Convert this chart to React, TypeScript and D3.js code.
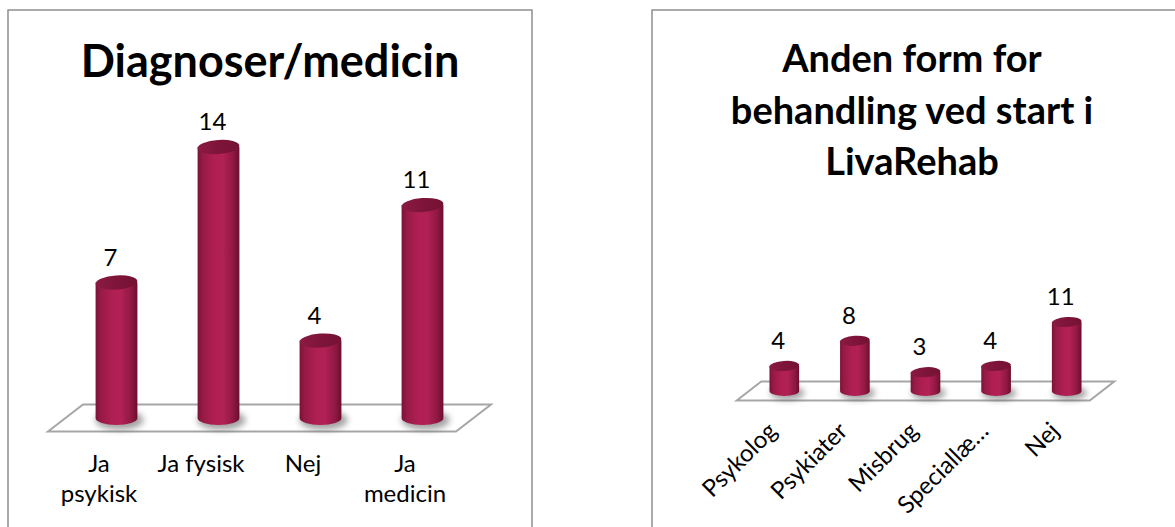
import { useEffect, useRef } from 'react';
import * as d3 from 'd3';

// Left chart
const leftTitle = ['Diagnoser/medicin'];
const leftCategories = ['Ja\npsykisk', 'Ja fysisk', 'Nej', 'Ja\nmedicin'];
const leftValues = [7, 14, 4, 11];

// Right chart
const rightTitle = ['Anden form for', 'behandling ved start i', 'LivaRehab'];
const rightCategories = ['Psykolog', 'Psykiater', 'Misbrug', 'Speciallæ…', 'Nej'];
const rightValues = [4, 8, 3, 4, 11];

const FONT = 'Lato, Carlito, Calibri, "Open Sans", sans-serif';

interface PanelCfg {
  id: string;
  box: [number, number, number, number];
  title: string[];
  titleX: number;
  titleY: number;
  titleSize: number;
  titleLead: number;
  categories: string[];
  values: number[];
  xRange: [number, number];
  yBase: number;
  yTop: number;
  maxVal: number;
  depth: [number, number];
  barFrac: number;
  ry: number;
  rotated: boolean;
}

function drawPanel(svg: d3.Selection<SVGSVGElement, unknown, null, undefined>, c: PanelCfg) {
  const g = svg.append('g');

  g.append('rect')
    .attr('x', c.box[0]).attr('y', c.box[1])
    .attr('width', c.box[2]).attr('height', c.box[3])
    .attr('fill', '#fff')
    .attr('stroke', '#8f8f8f')
    .attr('stroke-width', 1.5);

  // Title
  c.title.forEach((line, i) => {
    g.append('text')
      .attr('x', c.titleX)
      .attr('y', c.titleY + i * c.titleLead)
      .attr('text-anchor', 'middle')
      .attr('font-size', c.titleSize)
      .attr('font-weight', 700)
      .attr('font-family', FONT)
      .attr('fill', '#000')
      .text(line);
  });

  const x = d3.scaleBand<string>().domain(c.categories).range(c.xRange).padding(0);
  const y = d3.scaleLinear().domain([0, c.maxVal]).range([c.yBase, c.yTop]);
  const [dx, dy] = c.depth;

  // Floor
  const [x0, x1] = c.xRange;
  const floor = [
    [x0 - dx / 2, c.yBase + dy / 2],
    [x0 + dx / 2, c.yBase - dy / 2],
    [x1 + dx / 2, c.yBase - dy / 2],
    [x1 - dx / 2, c.yBase + dy / 2],
  ];
  g.append('path')
    .attr('d', d3.line()(floor as [number, number][]) + 'Z')
    .attr('fill', '#fff')
    .attr('stroke', '#a6a6a6')
    .attr('stroke-width', 2);

  const rx = (x.bandwidth() * c.barFrac) / 2;
  const bars = c.categories.map((cat, i) => ({
    cx: (x(cat) || 0) + x.bandwidth() / 2,
    top: y(c.values[i]),
    value: c.values[i],
    cat,
  }));

  // Shadows
  g.selectAll('.shadow')
    .data(bars)
    .enter()
    .append('ellipse')
    .attr('cx', d => d.cx + 3)
    .attr('cy', c.yBase + 2)
    .attr('rx', rx * 1.15)
    .attr('ry', c.ry * 1.4)
    .attr('fill', '#555')
    .attr('opacity', 0.55)
    .attr('filter', `url(#blur-${c.id})`);

  // Cylinder bodies
  const body = g.selectAll('.bar').data(bars).enter().append('g');
  body.append('path')
    .attr('d', d =>
      `M${d.cx - rx},${d.top} L${d.cx - rx},${c.yBase} ` +
      `A${rx},${c.ry} 0 0 0 ${d.cx + rx},${c.yBase} L${d.cx + rx},${d.top} Z`)
    .attr('fill', 'url(#cyl)');
  body.append('ellipse')
    .attr('cx', d => d.cx)
    .attr('cy', d => d.top)
    .attr('rx', rx)
    .attr('ry', c.ry)
    .attr('transform', d => `rotate(-4 ${d.cx} ${d.top})`)
    .attr('fill', 'url(#cyltop)');

  // Value labels
  g.selectAll('.val')
    .data(bars)
    .enter()
    .append('text')
    .attr('x', d => d.cx - 6)
    .attr('y', d => d.top - 17)
    .attr('text-anchor', 'middle')
    .attr('font-size', 24)
    .attr('font-family', FONT)
    .attr('fill', '#000')
    .text(d => d.value);

  // Category labels sit under the front edge of the floor
  const floorBottom = c.yBase + dy / 2;
  if (!c.rotated) {
    bars.forEach(d => {
      d.cat.split('\n').forEach((line, li) => {
        g.append('text')
          .attr('x', d.cx - dx / 2)
          .attr('y', floorBottom + 40 + li * 30)
          .attr('text-anchor', 'middle')
          .attr('font-size', 24)
          .attr('font-family', FONT)
          .attr('fill', '#000')
          .text(line);
      });
    });
  } else {
    g.selectAll('.cat')
      .data(bars)
      .enter()
      .append('text')
      .attr('transform', d => `translate(${d.cx - 6},${floorBottom + 32}) rotate(-45)`)
      .attr('text-anchor', 'end')
      .attr('font-size', 24)
      .attr('font-family', FONT)
      .attr('fill', '#000')
      .text(d => d.cat);
  }
}

export default function App() {
  const svgRef = useRef<SVGSVGElement>(null);

  useEffect(() => {
    if (!svgRef.current) return;
    d3.select(svgRef.current).selectAll('*').remove();
    const svg = d3.select(svgRef.current);

    const defs = svg.append('defs');
    const grad = defs.append('linearGradient').attr('id', 'cyl')
      .attr('x1', '0%').attr('x2', '100%').attr('y1', '0%').attr('y2', '0%');
    [
      [0, '#7a1236'], [0.12, '#961a46'], [0.4, '#b01f52'], [0.6, '#b22155'],
      [0.85, '#901842'], [1, '#6a0e2e'],
    ].forEach(([o, col]) => grad.append('stop').attr('offset', o as number).attr('stop-color', col as string));
    const tgrad = defs.append('linearGradient').attr('id', 'cyltop')
      .attr('x1', '0%').attr('x2', '100%').attr('y1', '0%').attr('y2', '0%');
    [[0, '#8a1a42'], [0.5, '#7e1439'], [1, '#741234']]
      .forEach(([o, col]) => tgrad.append('stop').attr('offset', o as number).attr('stop-color', col as string));
    ['l', 'r'].forEach(id => {
      defs.append('filter').attr('id', `blur-${id}`)
        .attr('x', '-50%').attr('y', '-100%').attr('width', '200%').attr('height', '300%')
        .append('feGaussianBlur').attr('stdDeviation', 3);
    });

    drawPanel(svg, {
      id: 'l',
      box: [8, 10, 524, 540],
      title: leftTitle,
      titleX: 270,
      titleY: 77,
      titleSize: 45,
      titleLead: 50,
      categories: leftCategories,
      values: leftValues,
      xRange: [65.5, 473.5],
      yBase: 418,
      yTop: 147,
      maxVal: 14,
      depth: [35, 27],
      barFrac: 0.41,
      ry: 7,
      rotated: false,
    });

    drawPanel(svg, {
      id: 'r',
      box: [652, 10, 524, 540],
      title: rightTitle,
      titleX: 912,
      titleY: 72,
      titleSize: 38,
      titleLead: 51.5,
      categories: rightCategories,
      values: rightValues,
      xRange: [749, 1102],
      yBase: 391,
      yTop: 322,
      maxVal: 11,
      depth: [24.5, 19],
      barFrac: 0.42,
      ry: 5,
      rotated: true,
    });
  }, []);

  return (
    <svg
      ref={svgRef}
      width={1175}
      height={527}
      style={{ position: 'absolute', left: 0, top: 0, background: '#fff' }}
    />
  );
}
